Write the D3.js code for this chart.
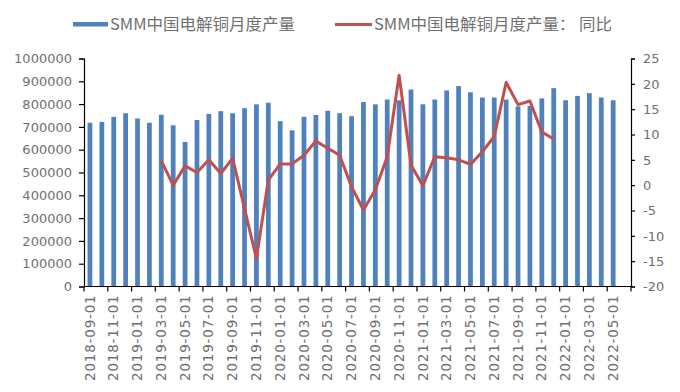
<!DOCTYPE html>
<html><head><meta charset="utf-8">
<script src="https://cdn.jsdelivr.net/npm/d3@7/dist/d3.min.js"></script>
<style>
html,body{margin:0;padding:0;background:#fff;}
svg{display:block;}
</style></head>
<body>
<svg id="chart" width="680" height="392"></svg>
<script>
const months = ["2018-09-01","2018-10-01","2018-11-01","2018-12-01","2019-01-01","2019-02-01","2019-03-01","2019-04-01","2019-05-01","2019-06-01","2019-07-01","2019-08-01","2019-09-01","2019-10-01","2019-11-01","2019-12-01","2020-01-01","2020-02-01","2020-03-01","2020-04-01","2020-05-01","2020-06-01","2020-07-01","2020-08-01","2020-09-01","2020-10-01","2020-11-01","2020-12-01","2021-01-01","2021-02-01","2021-03-01","2021-04-01","2021-05-01","2021-06-01","2021-07-01","2021-08-01","2021-09-01","2021-10-01","2021-11-01","2021-12-01","2022-01-01","2022-02-01","2022-03-01","2022-04-01","2022-05-01","2022-06-01"];
const production = [718000,722000,744000,760000,737000,718000,753000,707000,634000,730000,757000,769000,760000,782000,799000,806000,725000,685000,744000,752000,771000,760000,747000,809000,799000,820000,817000,864000,799000,820000,860000,879000,852000,829000,829000,820000,790000,792000,825000,870000,817000,836000,848000,829000,817000,null];
const yoy = [null,null,null,null,null,null,4.8,0.0,3.8,2.5,5.0,2.3,5.3,-4.6,-14.5,1.0,4.2,4.2,5.9,8.7,7.3,5.9,-0.3,-4.9,-0.9,5.6,21.7,4.0,-0.1,5.6,5.4,5.0,4.1,6.6,9.6,20.3,15.9,16.6,10.5,9.1,null,null,null,null,null,null];
const leftTicks = [0,100000,200000,300000,400000,500000,600000,700000,800000,900000,1000000];
const rightTicks = [-20,-15,-10,-5,0,5,10,15,20,25];
const legendLabels = ["SMM中国电解铜月度产量","SMM中国电解铜月度产量： 同比"];

const barColor = "#4F81BD", lineColor = "#C0504D", txt = "#707070";
const svg = d3.select("#chart");
const L = 84, R = 631, T = 58.5, B = 286.5;

const x = d3.scaleBand().domain(months).range([L, R]).paddingInner(0.6).paddingOuter(0.3);
const xc = d => x(d) + x.bandwidth()/2;
const step = (R - L) / months.length;
const yL = d3.scaleLinear().domain([0, 1000000]).range([B, T]);
const yR = d3.scaleLinear().domain([-20, 25]).range([B, T]);

// bars
svg.append("g").selectAll("rect")
  .data(months.map((m,i)=>({m, v: production[i]})).filter(d=>d.v!=null))
  .join("rect")
  .attr("x", d=>x(d.m)).attr("width", x.bandwidth())
  .attr("y", d=>yL(d.v)).attr("height", d=>B - yL(d.v))
  .attr("fill", barColor);

// line
const line = d3.line().defined(d=>d.v!=null).x(d=>xc(d.m)).y(d=>yR(d.v));
svg.append("path")
  .datum(months.map((m,i)=>({m, v: yoy[i]})))
  .attr("d", line).attr("fill","none").attr("stroke", lineColor)
  .attr("stroke-width", 3).attr("stroke-linejoin","round").attr("stroke-linecap","butt");

const font = "DejaVu Sans, sans-serif";

// left axis
const gl = svg.append("g").attr("transform", `translate(${L},0)`)
  .call(d3.axisLeft(yL).tickValues(leftTicks).tickFormat(d=>String(d)).tickSize(5).tickPadding(7));
// right axis
const gr = svg.append("g").attr("transform", `translate(${R},0)`)
  .call(d3.axisRight(yR).tickValues(rightTicks).tickFormat(d=>String(d)).tickSize(4).tickPadding(8));
[gl, gr].forEach(g=>{
  g.select(".domain").attr("stroke","#000").attr("stroke-width",1.2);
  g.selectAll(".tick line").attr("stroke","#000").attr("stroke-width",1.2);
  g.selectAll("text").attr("fill", txt).attr("font-family", font).attr("font-size", 13);
});

// bottom axis
const gb = svg.append("g").attr("transform", `translate(0,${B})`);
gb.append("line").attr("x1", L).attr("x2", R).attr("y1",0).attr("y2",0).attr("stroke","#000").attr("stroke-width",1.2);
const tickIdx = months.map((m,i)=>i).filter(i=>i%2===0).concat([months.length]);
gb.selectAll("line.tk").data(tickIdx)
  .join("line").attr("class","tk")
  .attr("x1", i=> L + i*step).attr("x2", i=> L + i*step)
  .attr("y1", 0).attr("y2", 5).attr("stroke","#000").attr("stroke-width",1.2);
gb.selectAll("text").data(months.filter((m,i)=>i%2===0))
  .join("text")
  .attr("transform", d=>`translate(${xc(d)+4.6},8) rotate(-90)`)
  .attr("text-anchor","end")
  .attr("fill", txt).attr("font-family", font).attr("font-size", 13.5)
  .attr("letter-spacing", 0.8)
  .text(d=>d);

// legend
const lg = svg.append("g");
lg.append("rect").attr("x",73).attr("y",22).attr("width",35).attr("height",4.5).attr("fill",barColor);
lg.append("text").attr("x",110).attr("y",30).attr("fill",txt)
  .attr("font-family","Noto Sans CJK SC, sans-serif").attr("font-size",15.5)
  .attr("textLength",185).attr("lengthAdjust","spacingAndGlyphs").text(legendLabels[0]);
lg.append("line").attr("x1",335).attr("x2",372).attr("y1",24.5).attr("y2",24.5).attr("stroke",lineColor).attr("stroke-width",3);
lg.append("text").attr("x",374).attr("y",30).attr("fill",txt)
  .attr("font-family","Noto Sans CJK SC, sans-serif").attr("font-size",15.5)
  .attr("textLength",238).attr("lengthAdjust","spacingAndGlyphs").text(legendLabels[1]);
</script>
</body></html>
